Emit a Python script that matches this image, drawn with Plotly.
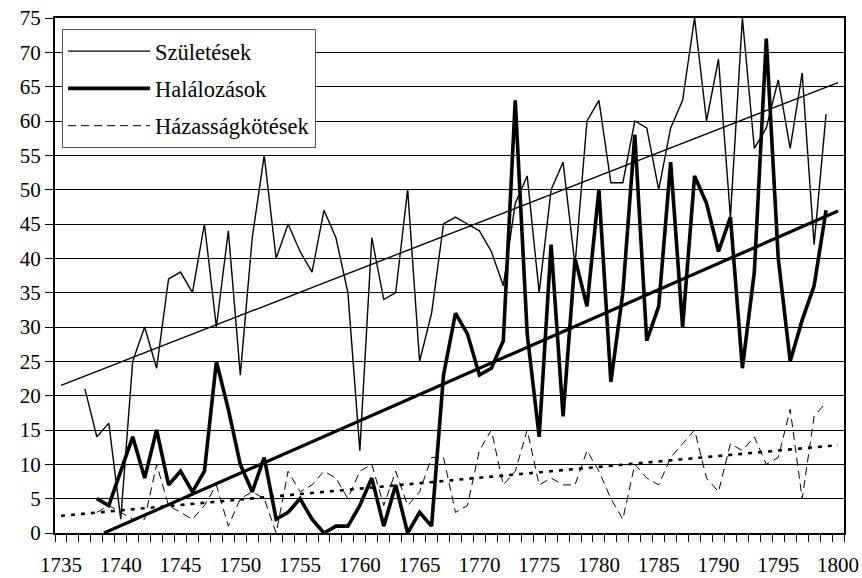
"""
Parish register chart: births, deaths and marriages per year, 1735-1800,
with linear trend lines for each series.
"""

import plotly.graph_objects as go

# ── Data ──────────────────────────────────────────────────────────────────────

birth_years = list(range(1737, 1800))
births = [
    21, 14, 16, 2, 25, 30, 24, 37, 38, 35,      # 1737-1746
    45, 30, 44, 23, 43, 55, 40, 45, 41, 38,     # 1747-1756
    47, 43, 35, 12, 43, 34, 35, 50, 25, 32,     # 1757-1766
    45, 46, 45, 44, 41, 36, 48, 52, 35, 50,     # 1767-1776
    54, 39, 60, 63, 51, 51, 60, 59, 50, 59,     # 1777-1786
    63, 75, 60, 69, 46, 75, 56, 59, 66, 56,     # 1787-1796
    67, 42, 61,                                 # 1797-1799
]

death_years = list(range(1738, 1800))
deaths = [
    5, 4, 9, 14, 8, 15, 7, 9, 6,                # 1738-1746
    9, 25, 18, 10, 6, 11, 2, 3, 5, 2,           # 1747-1756
    0, 1, 1, 4, 8, 1, 7, 0, 3, 1,               # 1757-1766
    23, 32, 29, 23, 24, 28, 63, 29, 14, 42,     # 1767-1776
    17, 40, 33, 50, 22, 35, 58, 28, 33, 54,     # 1777-1786
    30, 52, 48, 41, 46, 24, 38, 72, 40, 25,     # 1787-1796
    31, 36, 47,                                 # 1797-1799
]

marriage_years = list(range(1738, 1800))
marriages = [
    3, 4, 3, 2, 2, 10, 4, 3, 2,                 # 1738-1746
    4, 7, 1, 5, 6, 5, 0, 9, 6, 7,               # 1747-1756
    9, 8, 5, 9, 10, 4, 9, 4, 6, 11,             # 1757-1766
    11, 3, 4, 12, 15, 7, 9, 15, 7, 8,           # 1767-1776
    7, 7, 12, 9, 5, 2, 10, 8, 7, 11,            # 1777-1786
    13, 15, 8, 6, 13, 12, 14, 10, 11, 18,       # 1787-1796
    5, 17, 19,                                  # 1797-1799
]

# trend line end points as drawn on the chart
birth_trend_x = [1735, 1800]
birth_trend_y = [21.5, 65.6]
death_trend_x = [1738.6, 1800]
death_trend_y = [0, 46.9]
marriage_trend_x = [1735, 1800]
marriage_trend_y = [2.5, 12.8]

names = ["Születések", "Halálozások", "Házasságkötések"]
x_ticks = list(range(1735, 1801, 5))
y_ticks = list(range(0, 76, 5))

# ── Style ─────────────────────────────────────────────────────────────────────

_SERIF = "Liberation Serif, Times New Roman, serif"
_INK = "#000000"
_X_RANGE = [1734.5, 1800.5]

fig = go.Figure()

# ── Series ────────────────────────────────────────────────────────────────────

fig.add_trace(go.Scatter(
    x=birth_years, y=births, name=names[0], mode="lines",
    line=dict(color=_INK, width=1.4), legendgroup="b",
))
fig.add_trace(go.Scatter(
    x=death_years, y=deaths, name=names[1], mode="lines",
    line=dict(color=_INK, width=3.6), legendgroup="d",
))
fig.add_trace(go.Scatter(
    x=marriage_years, y=marriages, name=names[2], mode="lines",
    line=dict(color=_INK, width=1, dash="8px,5px"), legendgroup="m",
))

# trend lines (not in legend)
fig.add_trace(go.Scatter(
    x=birth_trend_x, y=birth_trend_y, mode="lines", showlegend=False,
    line=dict(color=_INK, width=1.4), hoverinfo="skip",
))
fig.add_trace(go.Scatter(
    x=death_trend_x, y=death_trend_y, mode="lines", showlegend=False,
    line=dict(color=_INK, width=3.2), hoverinfo="skip",
))
# dotted trend sits on the overlay axis that carries the year labels
fig.add_trace(go.Scatter(
    x=marriage_trend_x, y=marriage_trend_y, mode="lines", showlegend=False,
    line=dict(color=_INK, width=2.6, dash="4px,6px"), hoverinfo="skip",
    xaxis="x2",
))

# ── Layout ────────────────────────────────────────────────────────────────────

fig.update_layout(
    width=862, height=578,
    paper_bgcolor="white", plot_bgcolor="white",
    font=dict(family=_SERIF, size=21, color=_INK),
    margin=dict(l=55, r=18, t=18, b=45, autoexpand=False),
    showlegend=True,
    legend=dict(
        x=0.009, y=0.9786, xanchor="left", yanchor="top",
        bgcolor="white", bordercolor="#555555", borderwidth=1,
        font=dict(family=_SERIF, size=22.5, color=_INK),
        itemwidth=82, traceorder="grouped", tracegroupgap=5,
    ),
    # tick marks between the year categories
    xaxis=dict(
        range=_X_RANGE, automargin=False,
        tickmode="linear", tick0=1734.5, dtick=1,
        ticks="outside", ticklen=7, tickcolor=_INK, tickwidth=1.2,
        showticklabels=False, showgrid=False, zeroline=False,
        showline=True, linecolor=_INK, linewidth=2, mirror=True,
    ),
    # year labels, no visible tick marks of their own
    xaxis2=dict(
        range=_X_RANGE, overlaying="x", side="bottom", anchor="y",
        automargin=False, ticklabeloverflow="allow",
        tickmode="array", tickvals=x_ticks,
        ticks="outside", ticklen=7, tickcolor="rgba(0,0,0,0)",
        ticklabelstandoff=6,
        tickfont=dict(family=_SERIF, size=21, color=_INK),
        showgrid=False, zeroline=False, showline=False,
    ),
    yaxis=dict(
        range=[0, 75], automargin=False, ticklabeloverflow="allow",
        tickmode="array", tickvals=y_ticks,
        ticks="outside", ticklen=8, tickcolor=_INK, tickwidth=1.2,
        showgrid=True, gridcolor=_INK, gridwidth=1, zeroline=False,
        showline=True, linecolor=_INK, linewidth=2, mirror=True,
    ),
)

# drop the default 8px page margin so the figure fills the window exactly
fig.write_html(
    "out.html",
    config={"displayModeBar": False},
    post_script="document.body.style.margin = '0';",
)
